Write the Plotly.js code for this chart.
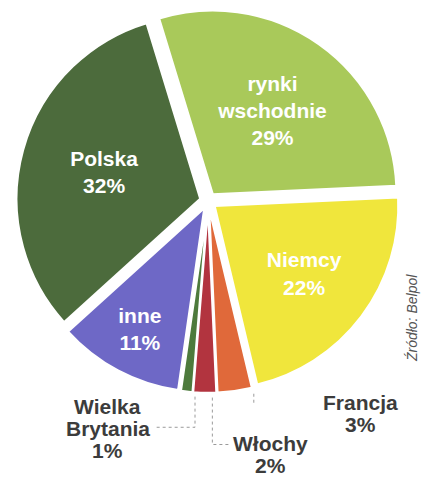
<!DOCTYPE html>
<html>
<head>
<meta charset="utf-8">
<script src="https://cdn.plot.ly/plotly-3.0.1.min.js"></script>
<style>html,body{margin:0;padding:0;background:#fff;}#chart{width:423px;height:479px;}</style>
</head>
<body>
<div id="chart"></div>
<script>
// Data (share of sales, %)
const categories = ["rynki wschodnie", "Niemcy", "Francja", "Włochy", "Wielka Brytania", "inne", "Polska"];
const shares = [29, 22, 3, 2, 1, 11, 32];
const sliceColors = ["#a9c95a", "#f0e63c", "#e0693a", "#b2343f", "#4d7a3c", "#6e68c6", "#4c6b3c"];
const insideLabels = ["rynki<br>wschodnie", "Niemcy", "", "", "", "inne", "Polska"];
const outsideLabels = [[], [], ["Francja"], ["Włochy"], ["Wielka", "Brytania"], [], []];
const sourceNote = "Źródło: Belpol";

const textpos = shares.map((v, i) => insideLabels[i] ? "inside" : "none");
const texts = shares.map((v, i) => insideLabels[i] ? insideLabels[i] + "<br>" + v + "%" : "");

const trace = {
  type: "pie",
  labels: categories,
  values: shares,
  text: texts,
  texttemplate: "%{text}",
  textposition: textpos,
  insidetextorientation: "horizontal",
  sort: false,
  direction: "clockwise",
  rotation: -17,
  pull: shares.map(() => 0.045),
  marker: {colors: sliceColors, line: {color: "#ffffff", width: 2}},
  insidetextfont: {family: "Liberation Sans, Arial, sans-serif", size: 21, color: "#ffffff", weight: "bold"},
  hoverinfo: "label+percent",
  domain: {x: [0.038, 0.946], y: [0.18, 0.981]},
  showlegend: false
};

// outside labels for the narrow slices: [center x px, first line y px]
const outPos = {"Francja": [360, 402], "Włochy": [270, 443], "Wielka Brytania": [108, 406]};
const lineGap = 22;
const annotations = [];
categories.forEach((c, i) => {
  const lines = outsideLabels[i];
  if (lines.length) {
    const p = outPos[c];
    lines.concat([shares[i] + "%"]).forEach((t, k) => {
      annotations.push({
        xref: "paper", yref: "paper", x: p[0] / 423, y: 1 - (p[1] + k * lineGap) / 479,
        xanchor: "center", yanchor: "middle",
        text: "<b>" + t + "</b>", showarrow: false,
        font: {family: "Liberation Sans, Arial, sans-serif", size: 21, color: "#3c3c3c"}
      });
    });
  }
});
annotations.push({
  xref: "paper", yref: "paper", x: 0.974, y: 0.336, xanchor: "center", yanchor: "middle",
  text: "<i>" + sourceNote + "</i>", textangle: -90, showarrow: false,
  font: {family: "Liberation Sans, Arial, sans-serif", size: 14, color: "#555555"}
});

// leader lines (thin grey)
const lineStyle = {color: "#9a9a9a", width: 1, dash: "dot"};
const shapes = [
  {type: "path", xref: "paper", yref: "paper", path: "M 0.461 0.172 L 0.461 0.108 L 0.37 0.108", line: lineStyle},
  {type: "path", xref: "paper", yref: "paper", path: "M 0.502 0.17 L 0.502 0.072 L 0.54 0.072", line: lineStyle},
  {type: "path", xref: "paper", yref: "paper", path: "M 0.6 0.178 L 0.6 0.155", line: lineStyle}
];

const layout = {
  width: 423, height: 479,
  margin: {l: 0, r: 0, t: 0, b: 0},
  paper_bgcolor: "#ffffff",
  annotations: annotations,
  shapes: shapes
};

Plotly.newPlot("chart", [trace], layout, {displayModeBar: false, staticPlot: true});
</script>
</body>
</html>
